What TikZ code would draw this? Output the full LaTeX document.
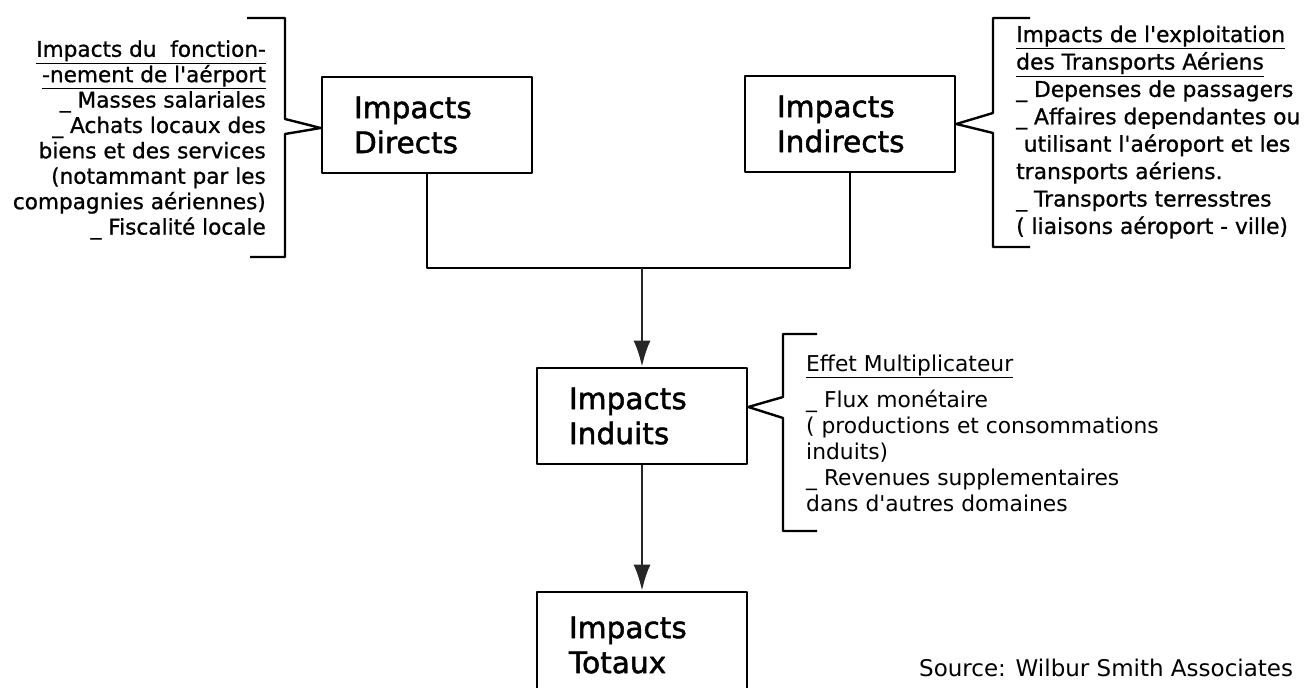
\documentclass[tikz,border=0pt]{standalone}
\usepackage{fontspec}
\setmainfont{DejaVu Sans}
\newfontfamily\boxfont{DejaVu Sans}[FakeBold=1.6]
\newfontfamily\notefont{DejaVu Sans}[FakeBold=0.9]
\usetikzlibrary{arrows.meta}
\newcommand{\apos}{\textquotesingle}
\newcommand{\ul}[1]{\underline{\raisebox{0pt}[\height][0.17em]{#1}}}
\begin{document}
\begin{tikzpicture}[x=0.5pt,y=-0.5pt,line width=1.2pt,line join=round,
  box/.style={draw,line width=1.3pt,minimum width=105pt,minimum height=48pt,
    inner ysep=0pt,inner xsep=16pt,text width=73pt,align=left,
    font=\boxfont\fontsize{14.8}{17.5}\selectfont},
  note/.style={inner sep=0pt,font=\notefont\fontsize{10.8}{12.7}\selectfont},
  arr/.style={draw=black!85,-{Latex[length=13pt,width=8.5pt]}}]
\clip (0,0) rectangle (1310,688);
\fill[white] (0,0) rectangle (1310,688);
% boites
\node[box] (dir) at (427,125) {Impacts\\Directs};
\node[box] (ind) at (850,124) {Impacts\\Indirects};
\node[box] (indu) at (642,416) {Impacts\\Induits};
\node[box,minimum height=53pt] (tot) at (642,645) {Impacts\\Totaux};
% textes
\node[note,anchor=east,align=right] (fonc) at (267,140)
  {\ul{Impacts du~~fonction-}\\\ul{-nement de l\apos aérport}\\
   \_ Masses salariales\\\_ Achats locaux des\\biens et des services\\
   (notammant par les\\compagnies aériennes)\\\_ Fiscalité locale};
\node[note,anchor=west,align=left,font=\notefont\fontsize{10.9}{13.7}\selectfont] (expl) at (1015,132)
  {\ul{Impacts de l\apos exploitation}\\\ul{des Transports Aériens}\\
   \_ Depenses de passagers\\\_ Affaires dependantes ou\\
   \hspace*{0.35em}utilisant l\apos aéroport et les\\transports aériens.\\
   \_ Transports terresstres\\( liaisons aéroport - ville)};
\node[inner sep=0pt,anchor=west,align=left,font=\fontsize{10.9}{13}\selectfont] (mult) at (805,433)
  {\ul{Effet Multiplicateur}\\[5pt]\_ Flux monétaire\\
   ( productions et consommations\\induits)\\
   \_ Revenues supplementaires\\dans d\apos autres domaines};
\node[inner sep=0pt,anchor=west,font=\fontsize{11.5}{14}\selectfont] (src) at (918,668)
  {Source: Wilbur Smith Associates};
% accolades
\draw (247,18)--(285,18)--(285,119)--([yshift=-1.5pt]dir.west)--(285,134)--(285,257)--(250,257);
\draw (1030,18)--(993,18)--(993,113)--(ind.east)--(993,133)--(993,247)--(1030,247);
\draw (817,334)--(783,334)--(783,397)--([yshift=4.5pt]indu.east)--(783,418)--(783,531)--(817,531);
% liaisons
\coordinate (join) at (642,268);
\draw (dir.south) |- (join) -| (ind.south);
\draw[arr] (join)--(indu.north);
\draw[arr] (indu.south)--(tot.north);
\end{tikzpicture}
\end{document}
